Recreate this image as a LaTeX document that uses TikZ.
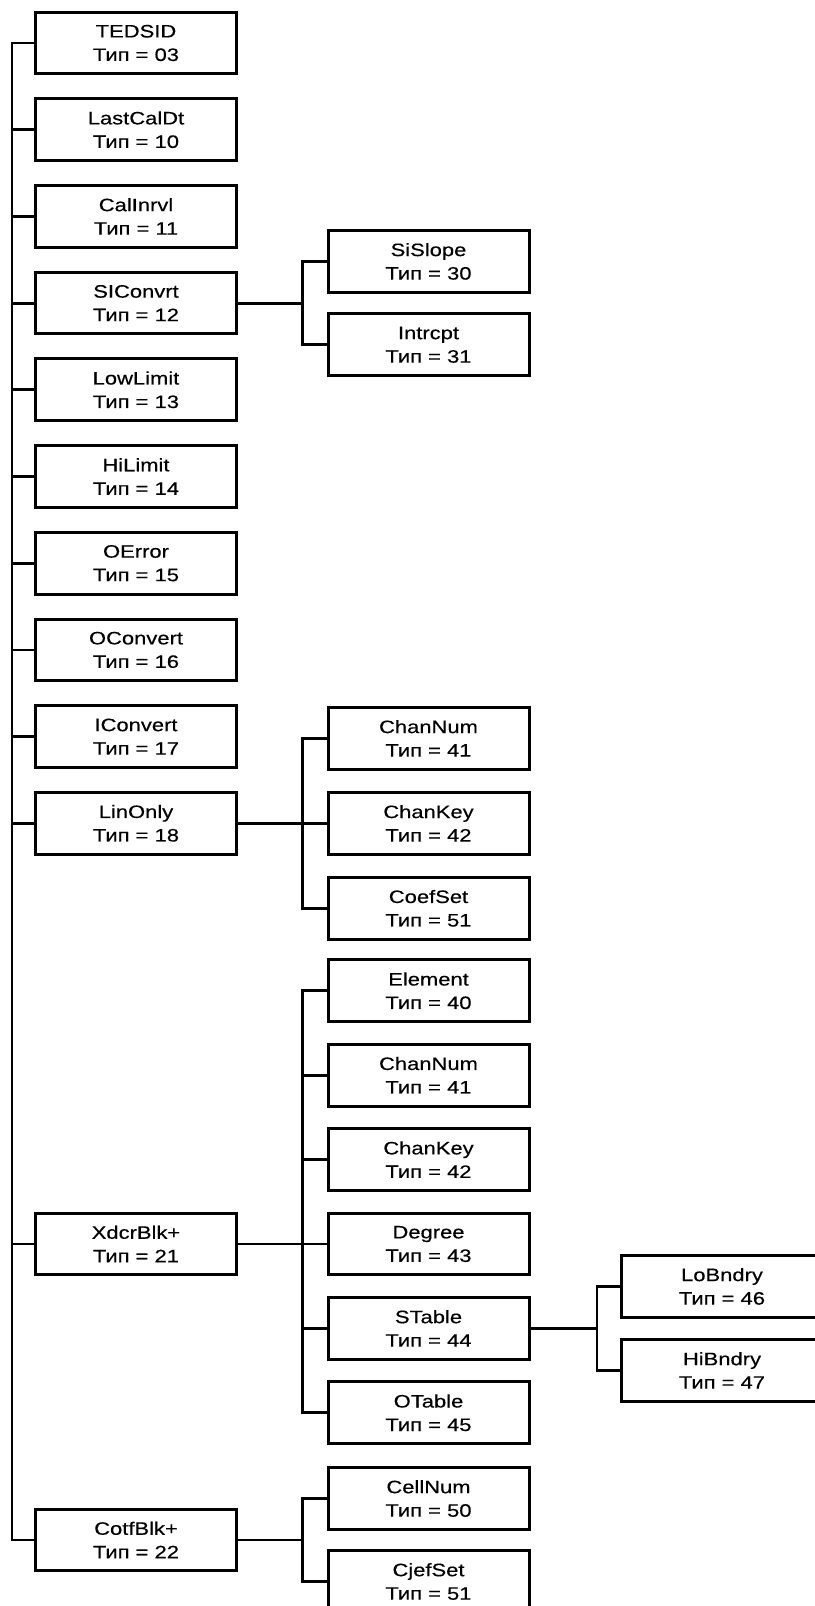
\documentclass[tikz,border=0pt]{standalone}
\usepackage{fontspec}
\newfontfamily\tedsfont{Liberation Sans}[FakeStretch=1.22, FakeBold=0.35]

\tikzset{
  blk/.style={draw, line width=3pt, minimum width=201pt, minimum height=61.7pt,
    inner sep=0pt, align=center, font=\tedsfont\fontsize{18}{23.5}\selectfont},
  link/.style={line width=2.8pt}
}

\begin{document}
\begin{tikzpicture}[x=1pt, y=-1pt]
        \def\p{86.7}
        \def\q{84.4}

        \fill[white] (0,0) rectangle (814,1606);
        \useasboundingbox (0,0) rectangle (814,1606);

        \coordinate (trunk) at (12,0);
        \coordinate (subtrunk) at (302.5,0);
        \coordinate (subsubtrunk) at (597,0);

        % main column
        \node[blk] (tedsid) at (136,43) {TEDSID\\Тип = 03};
        \node[blk] (lastcal) at (136,43+\p) {LastCalDt\\Тип = 10};
        \node[blk] (calinrvl) at (136,43+2*\p) {CalInrvl\\Тип = 11};
        \node[blk] (siconv) at (136,43+3*\p) {SIConvrt\\Тип = 12};
        \node[blk] (lowlim) at (136,43+4*\p) {LowLimit\\Тип = 13};
        \node[blk] (hilim) at (136,43+5*\p) {HiLimit\\Тип = 14};
        \node[blk] (oerror) at (136,43+6*\p) {OError\\Тип = 15};
        \node[blk] (oconv) at (136,43+7*\p) {OConvert\\Тип = 16};
        \node[blk] (iconv) at (136,43+8*\p) {IConvert\\Тип = 17};
        \node[blk] (linonly) at (136,43+9*\p) {LinOnly\\Тип = 18};
        \node[blk] (xdcr) at (136,1244) {XdcrBlk+\\Тип = 21};
        \node[blk] (cotf) at (136,1540) {CotfBlk+\\Тип = 22};

        % second column
        \node[blk] (sislope) at (428.5,43+3*\p-41.7) {SiSlope\\Тип = 30};
        \node[blk] (intrcpt) at (428.5,43+3*\p+41.7) {Intrcpt\\Тип = 31};

        \node[blk] (lchannum) at (428.5,43+9*\p-85) {ChanNum\\Тип = 41};
        \node[blk] (lchankey) at (428.5,43+9*\p) {ChanKey\\Тип = 42};
        \node[blk] (lcoefset) at (428.5,43+9*\p+85) {CoefSet\\Тип = 51};

        \node[blk] (element) at (428.5,1244-3*\q) {Element\\Тип = 40};
        \node[blk] (xchannum) at (428.5,1244-2*\q) {ChanNum\\Тип = 41};
        \node[blk] (xchankey) at (428.5,1244-\q) {ChanKey\\Тип = 42};
        \node[blk] (degree) at (428.5,1244) {Degree\\Тип = 43};
        \node[blk] (stable) at (428.5,1244+\q) {STable\\Тип = 44};
        \node[blk] (otable) at (428.5,1244+2*\q) {OTable\\Тип = 45};

        \node[blk] (cellnum) at (428.5,1540-41.5) {CellNum\\Тип = 50};
        \node[blk] (cjefset) at (428.5,1540+41.5) {CjefSet\\Тип = 51};

        % third column
        \node[blk] (lobndry) at (722,1244+\q-42) {LoBndry\\Тип = 46};
        \node[blk] (hibndry) at (722,1244+\q+42) {HiBndry\\Тип = 47};

        % connectors
        \draw[link] (tedsid.west) -| (cotf.west -| trunk) -- (cotf.west);
        \foreach \n in {lastcal,calinrvl,siconv,lowlim,hilim,oerror,oconv,iconv,linonly,xdcr}
            \draw[link] (\n.west) -- (\n.west -| trunk);

        \draw[link] (sislope.west) -| (intrcpt.west -| subtrunk) -- (intrcpt.west);
        \draw[link] (siconv.east) -- (siconv.east -| subtrunk);

        \draw[link] (lchannum.west) -| (lcoefset.west -| subtrunk) -- (lcoefset.west);
        \draw[link] (linonly.east) -- (lchankey.west);

        \draw[link] (element.west) -| (otable.west -| subtrunk) -- (otable.west);
        \foreach \n in {xchannum,xchankey,stable}
            \draw[link] (\n.west) -- (\n.west -| subtrunk);
        \draw[link] (xdcr.east) -- (degree.west);

        \draw[link] (cellnum.west) -| (cjefset.west -| subtrunk) -- (cjefset.west);
        \draw[link] (cotf.east) -- (cotf.east -| subtrunk);

        \draw[link] (lobndry.west) -| (hibndry.west -| subsubtrunk) -- (hibndry.west);
        \draw[link] (stable.east) -- (stable.east -| subsubtrunk);
    \end{tikzpicture}
\end{document}
